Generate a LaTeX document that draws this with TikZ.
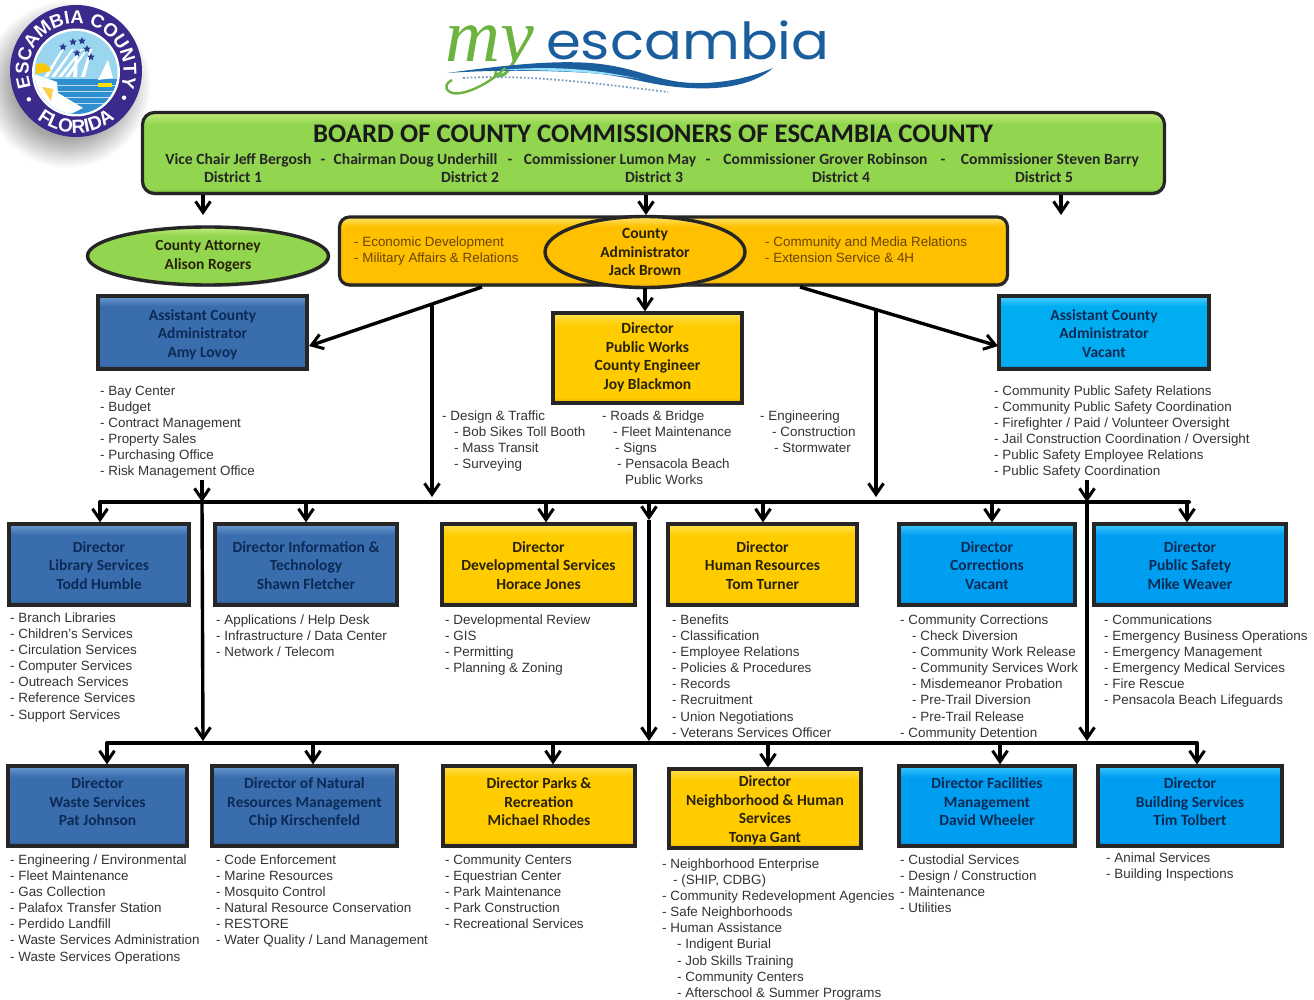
\documentclass[tikz,border=0pt]{standalone}
\usepackage{fontspec}
\setmainfont{Liberation Sans}
\newfontfamily\carlito{Carlito}
\newfontfamily\logofont{Poppins}
\newfontfamily\myfont{Liberation Serif}
\usetikzlibrary{shapes.geometric,arrows.meta,shadows,decorations.text}
\definecolor{grnL}{HTML}{C4EC7E}\definecolor{grnM}{HTML}{92D650}\definecolor{grnD}{HTML}{6FB52E}
\definecolor{orgL}{HTML}{FFE36A}\definecolor{orgM}{HTML}{FFC000}\definecolor{orgD}{HTML}{D99A00}
\definecolor{yelL}{HTML}{FFE050}\definecolor{yelM}{HTML}{FFCC00}\definecolor{yelD}{HTML}{D9A400}
\definecolor{bluL}{HTML}{6C9AD0}\definecolor{bluM}{HTML}{3A6DAE}\definecolor{bluD}{HTML}{264E84}
\definecolor{cyaL}{HTML}{3CC8FF}\definecolor{cyaM}{HTML}{009EF0}\definecolor{cyaD}{HTML}{0078C0}
\definecolor{skyL}{HTML}{50D0FF}\definecolor{skyM}{HTML}{00ADF0}\definecolor{skyD}{HTML}{0088C8}
\definecolor{navyT}{HTML}{0B2A55}\definecolor{darkT}{HTML}{2A2208}\definecolor{listT}{HTML}{333333}
\definecolor{barT}{HTML}{6B4400}\definecolor{sealP}{HTML}{3B2A8C}\definecolor{logoB}{HTML}{1A5E9E}
\definecolor{logoG}{HTML}{6DB33F}\definecolor{shadowG}{HTML}{A6A6A6}
\definecolor{sealSky}{HTML}{9AD6F0}\definecolor{sealSea}{HTML}{2E8FD0}\definecolor{sealNavy}{HTML}{2A3A8C}
\newcommand\bevel[4]{\pgfdeclareverticalshading{#1}{100bp}{color(0bp)=(#2); color(25bp)=(#2); color(28bp)=(#3); color(68bp)=(#3); color(75bp)=(#4); color(100bp)=(#4)}}
\bevel{bevgrn}{grnD}{grnM}{grnL}
\bevel{bevorg}{orgD}{orgM}{orgL}
\bevel{bevyel}{yelD}{yelM}{yelL}
\bevel{bevblu}{bluD}{bluM}{bluL}
\bevel{bevcya}{cyaD}{cyaM}{cyaL}
\bevel{bevsky}{skyD}{skyM}{skyL}
\pgfdeclareradialshading{softdisc}{\pgfpointorigin}{color(0bp)=(shadowG); color(16bp)=(shadowG); color(25bp)=(white); color(50bp)=(white)}
\tikzset{
 orgshape/.style={draw=black!85,line width=3.2pt,align=center,inner sep=0pt,
   font=\carlito\bfseries\fontsize{15.5}{18.5}\selectfont,
   drop shadow={shadow xshift=1pt,shadow yshift=-2pt,fill=black!50,opacity=.45}},
 blubox/.style={orgshape,shade,shading=bevblu,text=navyT},
 cyabox/.style={orgshape,shade,shading=bevcya,text=navyT},
 skybox/.style={orgshape,shade,shading=bevsky,text=navyT},
 yelbox/.style={orgshape,shade,shading=bevyel,text=darkT},
 listtxt/.style={inner sep=0pt,align=left,text=listT,anchor=north west,
   font=\fontsize{13.4}{16.1}\selectfont},
 bartxt/.style={listtxt,text=barT,font=\fontsize{13.4}{16}\selectfont},
 comm/.style={inner sep=0pt,anchor=base,text=black!85,font=\carlito\bfseries\fontsize{15.6}{17}\selectfont},
 arr/.style={line width=3.4pt,black,-{Straight Barb[length=11pt,width=15pt,line width=3pt]}},
 busline/.style={line width=4pt,black,line cap=round},
 sealstar/.style={shape=star,star points=5,star point ratio=2.2,fill=sealNavy,inner sep=0pt,minimum size=8pt},
}
\newcommand\orgbox[7]{\node[#2,minimum width={(#5-#3)*1pt},minimum height={(#6-#4)*1pt}] (#1) at ({(#3+#5)/2},{(#4+#6)/2}) {\rule{0pt}{16pt}#7\rule[-4pt]{0pt}{0pt}};}
\newcommand\upby{\\[-8.5pt]\mbox{}}
\newcommand\lst[4]{\node[listtxt] (#1) at (#2,{#3-5.5}) {#4};}
\newcommand\ind[1]{\hspace*{#1pt}}
\newcommand\dropA[3]{\coordinate (d#2) at (#3,502); \draw[arr] (d#2) -- (d#2 |- #2.north);}
\newcommand\dropB[3]{\coordinate (d#2) at (#3,743); \draw[arr] (d#2) -- (d#2 |- #2.north);}
\begin{document}
\begin{tikzpicture}[x=1pt,y=-1pt]
\useasboundingbox (0,0) rectangle (1314,1000);
\fill[white] (0,0) rectangle (1314,1000);
% ---------- seal
\begin{scope}[shift={(76,71)},y=1pt]
 \shade[shading=softdisc] (-9,-13) circle[radius=84];
 \fill[sealP] (0,0) circle[radius=66];
 \fill[white] (0,-1.5) circle[radius=44];
 \begin{scope}
  \clip (0,-1.5) circle[radius=41.5];
  \fill[sealSky] (-45,-45) rectangle (45,45);
  \foreach \a/\b in {-32/-13,-25/-3,-18/6,-11/11,-3/1,5/15}{\fill[white] (\a,-6) -- (\a+4,-6) -- (\b+1,22) -- (\b-1,22) -- cycle;}
  \fill[sealSea] (-45,-8) rectangle (45,-45);
  \foreach \w in {-14,-20,-26,-32}{\draw[white!70!sealSea,line width=.8pt] (-20,\w) -- (40,\w);}
  \fill[white] (-45,-4) -- (-39,-4) -- (-19,-11) -- (-18,-22) -- (7,-37) -- (-9,-45) -- (-45,-45) -- cycle;
  \fill[yellow!60!orange] (-40,6) .. controls (-34,10) and (-28,8) .. (-25,0) -- (-40,-3) -- cycle;
  \fill[yellow!50!orange!70!white] (-34,-16) -- (-23,-18) -- (-25,-30) -- cycle;
  \fill[white] (32,11) -- (37,-7) -- (22,-9) -- cycle;
  \fill[yellow!85!orange] (22,-12) rectangle (36,-16);
 \end{scope}
 \foreach \p/\q [count=\n] in {-13/24,-3/29,6/30,11/22,1/18,15/14}{\node[sealstar] (star\n) at (\p,\q) {};}
 \path[decorate,decoration={text along path,text align=center,
   text={|\fontsize{18.5}{18}\selectfont\bfseries\color{white}|ESCAMBIA COUNTY}}]
   (195:47.5) arc[start angle=195,end angle=-15,radius=47.5];
 \path[decorate,decoration={text along path,text align=center,
   text={|\fontsize{19}{18}\selectfont\bfseries\color{white}|FLORIDA}}]
   (228:62) arc[start angle=228,end angle=312,radius=62];
 \fill[white] (211:55) circle[radius=2.2] (-29:55) circle[radius=2.2];
\end{scope}
% ---------- logo
\node[inner sep=0pt,anchor=base west,text=logoG,font=\myfont\itshape\fontsize{76}{76}\selectfont] (logomy) at (445,62) {my};
\node[inner sep=0pt,anchor=base west,text=logoB,font=\logofont\fontsize{51}{51}\selectfont] (logoname) at (546,60) {\scalebox{1.1}[1]{escambia}};
\fill[logoB] (447,73) .. controls (500,66) and (550,60) .. (590,63) .. controls (630,66) and (650,78) .. (680,82) .. controls (715,86) and (750,78) .. (773,68) .. controls (755,84) and (725,90) .. (690,88) .. controls (650,86) and (630,76) .. (590,73) .. controls (540,70) and (490,70) .. (447,73) -- cycle;
\fill[blue!30!cyan!40!white] (500,70) .. controls (550,66) and (590,68) .. (640,79) .. controls (600,72) and (550,70) .. (500,70) -- cycle;
\draw[logoB!60,line width=1.8pt,dotted] (463,78) .. controls (530,74) and (600,84) .. (668,92);
\draw[logoG,line width=2.4pt] (505,68) .. controls (490,84) and (460,98) .. (450,92) .. controls (443,88) and (447,82) .. (452,80);
% ---------- top
\node[orgshape,shade,shading=bevgrn,rounded corners=12pt,minimum width=1022pt,minimum height=81pt] (board) at (653.5,153) {};
\node[inner sep=0pt,text=black!90,font=\carlito\bfseries\fontsize{26.8}{28}\selectfont] (title) at (653,134) {BOARD OF COUNTY COMMISSIONERS OF ESCAMBIA COUNTY};
\node[comm] (c1) at (238.5,165) {Vice Chair Jeff Bergosh};
\node[comm] (s1) at (323,165) {-};
\node[comm] (c2) at (415.5,165) {Chairman Doug Underhill};
\node[comm] (s2) at (510,165) {-};
\node[comm] (c3) at (610,165) {Commissioner Lumon May};
\node[comm] (s3) at (708,165) {-};
\node[comm] (c4) at (825.5,165) {Commissioner Grover Robinson};
\node[comm] (s4) at (943,165) {-};
\node[comm] (c5) at (1050,165) {Commissioner Steven Barry};
\node[comm] (d1) at (233,183) {District 1};
\node[comm] (d2) at (470,183) {District 2};
\node[comm] (d3) at (654,183) {District 3};
\node[comm] (d4) at (841,183) {District 4};
\node[comm] (d5) at (1044,183) {District 5};
\node[orgshape,shade,shading=bevorg,rounded corners=10pt,minimum width=668pt,minimum height=68pt] (bar) at (673.5,251) {};
\node[bartxt] (barL) at (354,236.5) {- Economic Development\\- Military Affairs \& Relations};
\node[bartxt] (barR) at (765,236.5) {- Community and Media Relations\\- Extension Service \& 4H};
\node[orgshape,shape=ellipse,shade,shading=bevorg,text=darkT,line width=3.4pt,minimum width=200pt,minimum height=71pt] (admin) at (645,252) {County\\Administrator\\Jack Brown};
\node[orgshape,shape=ellipse,shade,shading=bevgrn,text=darkT,line width=3.4pt,minimum width=241pt,minimum height=58pt] (atty) at (208,256) {County Attorney\\Alison Rogers};
\orgbox{asL}{blubox}{98}{296}{307}{369}{Assistant County\\Administrator\\Amy Lovoy}
\orgbox{pw}{yelbox}{553}{313}{742}{403}{Director\\Public Works\\County Engineer\\Joy Blackmon\\[-13pt]\mbox{}}
\orgbox{asR}{skybox}{999}{296}{1209}{369}{Assistant County\\Administrator\\Vacant}
% ---------- row 1
\orgbox{lib}{blubox}{9}{524}{189}{605}{Director\\Library Services\\Todd Humble}
\orgbox{it}{blubox}{215}{524}{397}{605}{Director Information \&\\Technology\\Shawn Fletcher}
\orgbox{dev}{yelbox}{442}{524}{635}{605}{Director\\Developmental Services\\Horace Jones}
\orgbox{hr}{yelbox}{668}{524}{857}{605}{Director\\Human Resources\\Tom Turner}
\orgbox{cor}{cyabox}{899}{524}{1075}{605}{Director\\Corrections\\Vacant}
\orgbox{ps}{cyabox}{1094}{524}{1286}{605}{Director\\Public Safety\\Mike Weaver}
% ---------- row 2
\orgbox{waste}{blubox}{8}{766}{187}{846}{Director\\Waste Services\\Pat Johnson\upby}
\orgbox{nat}{blubox}{212}{766}{397}{846}{Director of Natural\\Resources Management\\Chip Kirschenfeld\upby}
\orgbox{parks}{yelbox}{443}{766}{635}{846}{Director Parks \&\\Recreation\\Michael Rhodes\upby}
\orgbox{nbr}{yelbox}{669}{769}{861}{848}{Director\\Neighborhood \& Human\\Services\\Tonya Gant}
\orgbox{fac}{cyabox}{899}{766}{1075}{846}{Director Facilities\\Management\\David Wheeler\upby}
\orgbox{bld}{cyabox}{1098}{766}{1282}{846}{Director\\Building Services\\Tim Tolbert\upby}
% ---------- lists
\lst{lBay}{100}{391}{- Bay Center\\- Budget\\- Contract Management\\- Property Sales\\- Purchasing Office\\- Risk Management Office}
\lst{lDes}{442}{416}{- Design \& Traffic\\\ind{12}- Bob Sikes Toll Booth\\\ind{12}- Mass Transit\\\ind{12}- Surveying}
\lst{lRoa}{602}{416}{- Roads \& Bridge\\\ind{11}- Fleet Maintenance\\\ind{13}- Signs\\\ind{15}- Pensacola Beach\\\ind{23}Public Works}
\lst{lEng}{760}{416}{- Engineering\\\ind{12}- Construction\\\ind{14}- Stormwater}
\lst{lSaf}{994}{391}{- Community Public Safety Relations\\- Community Public Safety Coordination\\- Firefighter / Paid / Volunteer Oversight\\- Jail Construction Coordination / Oversight\\- Public Safety Employee Relations\\- Public Safety Coordination}
\lst{lLib}{10}{618}{- Branch Libraries\\- Children's Services\\- Circulation Services\\- Computer Services\\- Outreach Services\\- Reference Services\\- Support Services}
\lst{lIt}{216}{620}{- Applications / Help Desk\\- Infrastructure / Data Center\\- Network / Telecom}
\lst{lDev}{445}{620}{- Developmental Review\\- GIS\\- Permitting\\- Planning \& Zoning}
\lst{lHr}{672}{620}{- Benefits\\- Classification\\- Employee Relations\\- Policies \& Procedures\\- Records\\- Recruitment\\- Union Negotiations\\- Veterans Services Officer}
\lst{lCor}{900}{620}{- Community Corrections\\\ind{12}- Check Diversion\\\ind{12}- Community Work Release\\\ind{12}- Community Services Work\\\ind{12}- Misdemeanor Probation\\\ind{12}- Pre-Trail Diversion\\\ind{12}- Pre-Trail Release\\- Community Detention}
\lst{lPs}{1104}{620}{- Communications\\- Emergency Business Operations\\- Emergency Management\\- Emergency Medical Services\\- Fire Rescue\\- Pensacola Beach Lifeguards}
\lst{lWas}{10}{860}{- Engineering / Environmental\\- Fleet Maintenance\\- Gas Collection\\- Palafox Transfer Station\\- Perdido Landfill\\- Waste Services Administration\\- Waste Services Operations}
\lst{lNat}{216}{860}{- Code Enforcement\\- Marine Resources\\- Mosquito Control\\- Natural Resource Conservation\\- RESTORE\\- Water Quality / Land Management}
\lst{lPar}{445}{860}{- Community Centers\\- Equestrian Center\\- Park Maintenance\\- Park Construction\\- Recreational Services}
\lst{lNbr}{662}{864}{- Neighborhood Enterprise\\\ind{11}- (SHIP, CDBG)\\- Community Redevelopment Agencies\\- Safe Neighborhoods\\- Human Assistance\\\ind{15}- Indigent Burial\\\ind{15}- Job Skills Training\\\ind{15}- Community Centers\\\ind{15}- Afterschool \& Summer Programs}
\lst{lFac}{900}{860}{- Custodial Services\\- Design / Construction\\- Maintenance\\- Utilities}
\lst{lBld}{1106}{858}{- Animal Services\\- Building Inspections}
% ---------- connectors
\coordinate (t1) at (203,215); \draw[arr] (t1 |- board.south) -- (t1);
\coordinate (t2) at (646,215); \draw[arr] (t2 |- board.south) -- (t2);
\coordinate (t3) at (1061,215); \draw[arr] (t3 |- board.south) -- (t3);
\coordinate (bL) at (482,287); \coordinate (bR) at (800,287);
\coordinate (aL) at (309,346); \coordinate (aR) at (998,346);
\draw[arr] (bL) -- (aL);
\draw[arr] (bR) -- (aR);
\coordinate (p0) at (645,288);
\draw[arr] (p0) -- (p0 |- pw.north);
\coordinate (v1) at (432,304); \coordinate (v1e) at (432,497);
\coordinate (v2) at (876,310); \coordinate (v2e) at (876,497);
\draw[arr] (v1) -- (v1e);
\draw[arr] (v2) -- (v2e);
\coordinate (busAL) at (100,502); \coordinate (busAR) at (1189,502);
\draw[busline] (busAL) -- (busAR);
\coordinate (busBL) at (107,743); \coordinate (busBR) at (1197,743);
\draw[busline] (busBL) -- (busBR);
\dropA{busAL}{lib}{100}
\dropA{busAL}{it}{306}
\dropA{busAL}{dev}{546}
\dropA{busAL}{hr}{763}
\dropA{busAL}{cor}{992}
\dropA{busAL}{ps}{1187}
\dropB{busBL}{waste}{107}
\dropB{busBL}{nat}{313}
\dropB{busBL}{parks}{553}
\dropB{busBL}{nbr}{768}
\dropB{busBL}{fac}{1000}
\dropB{busBL}{bld}{1197}
\coordinate (m1a) at (202,480); \coordinate (m1b) at (202,502); \coordinate (m1c) at (203,741);
\draw[arr] (m1a) -- (m1b);
\draw[arr] (m1b) -- (m1c);
\coordinate (m2a) at (649,502); \coordinate (m2b) at (649,520); \coordinate (m2c) at (649,741);
\draw[arr] (m2a) -- (m2b);
\draw[arr] (m2b) -- (m2c);
\coordinate (m3a) at (1087,480); \coordinate (m3b) at (1087,502); \coordinate (m3c) at (1087,741);
\draw[arr] (m3a) -- (m3b);
\draw[arr] (m3b) -- (m3c);
\end{tikzpicture}
\end{document}
